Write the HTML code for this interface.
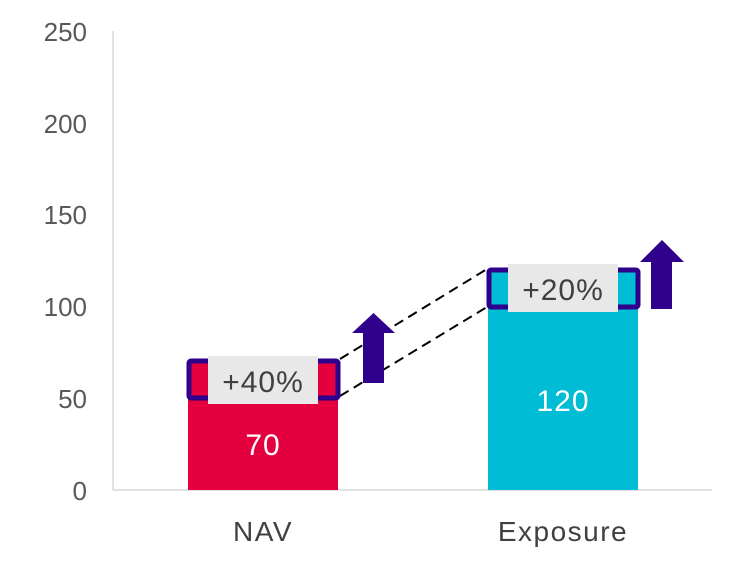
<!DOCTYPE html>
<html><head><style>body{margin:0;background:#fff}svg{display:block}text{font-family:"Liberation Sans",sans-serif}</style></head><body>
<svg width="752" height="571" viewBox="0 0 752 571">
<g fill="#595959" font-size="26" text-anchor="end">
<text x="87" y="500">0</text><text x="87" y="408">50</text><text x="87" y="316">100</text><text x="87" y="224">150</text><text x="87" y="133">200</text><text x="87" y="41">250</text>
</g>
<line x1="113" y1="31" x2="113" y2="490" stroke="#d9d9d9" stroke-width="1.5"/>
<line x1="113" y1="490" x2="712" y2="490" stroke="#d9d9d9" stroke-width="1.5"/>
<rect x="188" y="361" width="150" height="129" fill="#e4003f"/>
<rect x="488" y="270" width="150" height="220" fill="#00bcd4"/>
<line x1="340" y1="359" x2="487" y2="269" stroke="#000" stroke-width="2" stroke-dasharray="10,6"/>
<line x1="340" y1="396" x2="487" y2="307" stroke="#000" stroke-width="2" stroke-dasharray="10,6"/>
<rect x="189" y="361" width="149" height="37" fill="none" stroke="#2e008b" stroke-width="5" rx="2"/>
<rect x="489" y="270" width="149" height="37" fill="none" stroke="#2e008b" stroke-width="5" rx="2"/>
<rect x="208" y="356" width="110" height="48" fill="#e8e8e8"/>
<rect x="508" y="264" width="110" height="48" fill="#e8e8e8"/>
<g fill="#404040" font-size="30" text-anchor="middle" letter-spacing="1"><text x="263" y="392">+40%</text><text x="563" y="300">+20%</text></g>
<polygon points="373.5,313 395,333 384,333 384,383 363,383 363,333 352,333" fill="#2e008b"/>
<polygon points="662,240 684,262 672,262 672,309 651,309 651,262 640,262" fill="#2e008b"/>
<g fill="#fff" font-size="30" text-anchor="middle" letter-spacing="1"><text x="263" y="455">70</text><text x="563" y="411">120</text></g>
<g fill="#404040" font-size="28" text-anchor="middle" letter-spacing="1.5"><text x="263" y="541">NAV</text><text x="563" y="541">Exposure</text></g>
</svg>
</body></html>
